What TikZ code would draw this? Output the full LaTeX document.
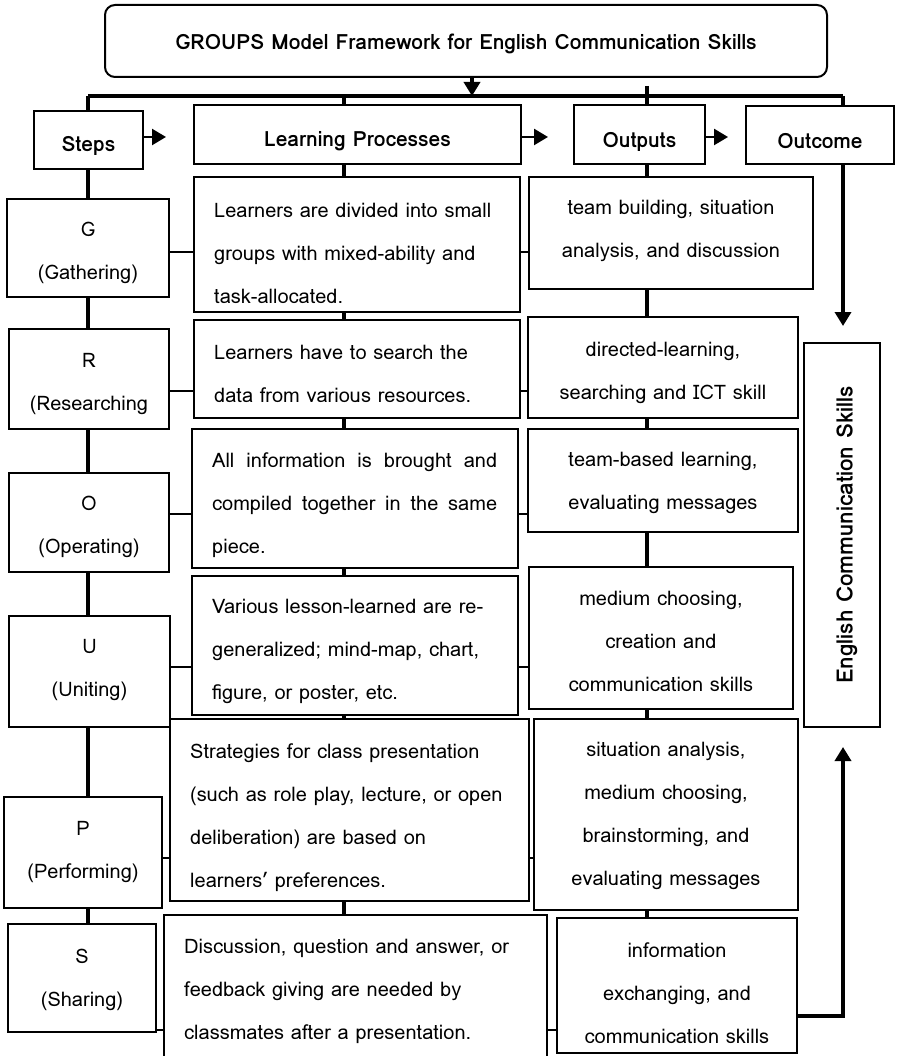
\documentclass[tikz,border=0pt]{standalone}
\usepackage{fontspec}
\setmainfont{Loma}
\usetikzlibrary{arrows.meta}
\tikzset{
  bx/.style={draw, line width=2pt, inner sep=0pt},
  ctxt/.style={align=center, inner sep=0pt, font=\fontsize{20}{43}\selectfont},
  ltxt/.style={align=left, anchor=west, inner sep=0pt, font=\fontsize{20}{43}\selectfont},
  htxt/.style={inner sep=0pt, font=\fontsize{21}{25}\selectfont\bfseries},
  col/.style={line width=3.5pt},
  rowc/.style={line width=2.5pt},
  tip/.style={-{Triangle[length=14pt,width=16pt]}},
}
\begin{document}
\begin{tikzpicture}[x=1pt,y=-1pt]
\useasboundingbox (0,0) rectangle (896,1056);
% title and headers
\node[bx, rounded corners=10pt, minimum width=722pt, minimum height=72pt] (title) at (466,41) {};
\node[htxt] (titlet) at ([yshift=-2.5pt]title.center) {GROUPS Model Framework for English Communication Skills};
\node[bx, minimum width=109pt, minimum height=58pt] (Steps) at (88.5,140) {};
\node[htxt] (Stepst) at ([yshift=-6pt]Steps.center) {Steps};
\node[bx, minimum width=327pt, minimum height=59pt] (LPh) at (357.5,134.5) {};
\node[htxt] (LPht) at ([yshift=-7pt]LPh.center) {Learning Processes};
\node[bx, minimum width=131pt, minimum height=59pt] (Outh) at (639.5,134.5) {};
\node[htxt] (Outht) at ([yshift=-7pt]Outh.center) {Outputs};
\node[bx, minimum width=148pt, minimum height=58pt] (Outc) at (820,135) {};
\node[htxt] (Outct) at ([yshift=-6pt]Outc.center) {Outcome};
% steps
\node[bx, minimum width=162pt, minimum height=98pt] (G) at (88,248) {};
\node[ctxt] (Gt) at ([yshift=-5pt]G.center) {G\\(Gathering)};
\node[bx, minimum width=160pt, minimum height=100pt] (R) at (89,379) {};
\node[ctxt] (Rt) at ([yshift=-5pt]R.center) {R\\(Researching};
\node[bx, minimum width=160pt, minimum height=99pt] (O) at (89,522.5) {};
\node[ctxt] (Ot) at ([yshift=-4pt]O.center) {O\\(Operating)};
\node[bx, minimum width=161pt, minimum height=111pt] (U) at (89.5,671.5) {};
\node[ctxt] (Ut) at ([yshift=1pt]U.center) {U\\(Uniting)};
\node[bx, minimum width=158pt, minimum height=111pt] (P) at (83,852.5) {};
\node[ctxt] (Pt) at ([yshift=0.5pt]P.center) {P\\(Performing)};
\node[bx, minimum width=148pt, minimum height=108pt] (S) at (82,978) {};
\node[ctxt] (St) at ([yshift=-1.5pt]S.center) {S\\(Sharing)};
% learning processes
\node[bx, minimum width=326pt, minimum height=135pt] (LP1) at (357,244.5) {};
\node[ltxt] (LP1t) at ([xshift=21pt,yshift=-8.5pt]LP1.west) {Learners are divided into small\\groups with mixed-ability and\\task-allocated.};
\node[bx, minimum width=326pt, minimum height=98pt] (LP2) at (357,369) {};
\node[ltxt] (LP2t) at ([xshift=21pt,yshift=-5pt]LP2.west) {Learners have to search the\\data from various resources.};
\node[bx, minimum width=326pt, minimum height=139pt] (LP3) at (355,498.5) {};
\node[ltxt] (LP3t) at ([xshift=21pt,yshift=-6.5pt]LP3.west) {\makebox[285pt][s]{All information is brought and}\\\makebox[285pt][s]{compiled together in the same}\\piece.};
\node[bx, minimum width=326pt, minimum height=139pt] (LP4) at (355,645.5) {};
\node[ltxt] (LP4t) at ([xshift=21pt,yshift=-6pt]LP4.west) {Various lesson-learned are re-\\generalized; mind-map, chart,\\figure, or poster, etc.};
\node[bx, minimum width=359pt, minimum height=182pt] (LP5) at (349.5,810) {};
\node[ltxt] (LP5t) at ([xshift=21pt,yshift=-7.5pt]LP5.west) {Strategies for class presentation\\(such as role play, lecture, or open\\deliberation) are based on\\learners' preferences.};
\node[bx, minimum width=383pt, minimum height=147pt] (LP6) at (355.5,988.5) {};
\node[ltxt] (LP6t) at ([xshift=21pt,yshift=-3pt]LP6.west) {Discussion, question and answer, or\\feedback giving are needed by\\classmates after a presentation.};
% outputs
\node[bx, minimum width=284pt, minimum height=112pt] (Out1) at (671,233) {};
\node[ctxt] (Out1t) at ([yshift=2pt]Out1.center) {team building, situation\\analysis, and discussion};
\node[bx, minimum width=270pt, minimum height=101pt] (Out2) at (663,367.5) {};
\node[ctxt] (Out2t) at ([yshift=-5.5pt]Out2.center) {directed-learning,\\searching and ICT skill};
\node[bx, minimum width=270pt, minimum height=103pt] (Out3) at (663,480.5) {};
\node[ctxt] (Out3t) at ([yshift=-2.5pt]Out3.center) {team-based learning,\\evaluating messages};
\node[bx, minimum width=264pt, minimum height=142pt] (Out4) at (661,638) {};
\node[ctxt] (Out4t) at ([yshift=-3.5pt]Out4.center) {medium choosing,\\creation and\\communication skills};
\node[bx, minimum width=264pt, minimum height=191pt] (Out5) at (666,814.5) {};
\node[ctxt] (Out5t) at ([yshift=-1.5pt]Out5.center) {situation analysis,\\medium choosing,\\brainstorming, and\\evaluating messages};
\node[bx, minimum width=240pt, minimum height=135pt] (Out6) at (677,985.5) {};
\node[ctxt] (Out6t) at ([yshift=-7.5pt]Out6.center) {information\\exchanging, and\\communication skills};
% outcome
\node[bx, minimum width=76pt, minimum height=384pt] (Eng) at (842,535) {};
\node[htxt, rotate=90, font=\fontsize{22.5}{26}\selectfont\bfseries] (Engt) at ([xshift=5pt]Eng.center) {English Communication Skills};
% coordinates
\coordinate (cS) at (88,96);
\coordinate (cL) at (344,96);
\coordinate (cO) at (647,96);
\coordinate (cC) at (843,96);
\coordinate (tA) at (472,96);
\coordinate (stub) at (647,86);
\coordinate (a1) at (166,137);
\coordinate (a2) at (548,137);
\coordinate (a3) at (728,137);
\coordinate (tipE) at (843,326);
\coordinate (bend) at (843,1016);
\coordinate (tipE2) at (843,747);
\coordinate (hG) at (0,252);
\coordinate (hR) at (0,391);
\coordinate (hO) at (0,514);
\coordinate (hU) at (0,667);
\coordinate (hP) at (0,858);
\coordinate (hS) at (0,1030);
% bar
\draw[col] (cS) -- (cC);
\draw[col, tip] (title.south -| tA) -- (tA);
\draw[col] (cS) -- (Steps.north -| cS);
\draw[col] (cL) -- (LPh.north -| cL);
\draw[col] (stub) -- (Outh.north -| cO);
\draw[col] (cC) -- (Outc.north -| cC);
% header arrows
\draw[rowc, tip] (a1 -| Steps.east) -- (a1);
\draw[rowc, tip] (a2 -| LPh.east) -- (a2);
\draw[rowc, tip] (a3 -| Outh.east) -- (a3);
% steps column
\draw[col] (Steps.south -| cS) -- (G.north -| cS);
\draw[col] (G.south -| cS) -- (R.north -| cS);
\draw[col] (R.south -| cS) -- (O.north -| cS);
\draw[col] (O.south -| cS) -- (U.north -| cS);
\draw[col] (U.south -| cS) -- (P.north -| cS);
\draw[col] (P.south -| cS) -- (S.north -| cS);
% LP column
\draw[col] (LPh.south -| cL) -- (LP1.north -| cL);
\draw[col] (LP1.south -| cL) -- (LP2.north -| cL);
\draw[col] (LP2.south -| cL) -- (LP3.north -| cL);
\draw[col] (LP3.south -| cL) -- (LP4.north -| cL);
\draw[col] (LP4.south -| cL) -- (LP5.north -| cL);
\draw[col] (LP5.south -| cL) -- (LP6.north -| cL);
% outputs column
\draw[col] (Outh.south -| cO) -- (Out1.north -| cO);
\draw[col] (Out1.south -| cO) -- (Out2.north -| cO);
\draw[col] (Out2.south -| cO) -- (Out3.north -| cO);
\draw[col] (Out3.south -| cO) -- (Out4.north -| cO);
\draw[col] (Out4.south -| cO) -- (Out5.north -| cO);
\draw[col] (Out5.south -| cO) -- (Out6.north -| cO);
% outcome arrows
\draw[col, tip] (Outc.south -| cC) -- (tipE);
\draw[col, tip] (bend -| Out6.east) -- (bend) -- (tipE2);
% row connectors
\draw[rowc] (G.east |- hG) -- (LP1.west |- hG) (LP1.east |- hG) -- (Out1.west |- hG);
\draw[rowc] (R.east |- hR) -- (LP2.west |- hR) (LP2.east |- hR) -- (Out2.west |- hR);
\draw[rowc] (O.east |- hO) -- (LP3.west |- hO) (LP3.east |- hO) -- (Out3.west |- hO);
\draw[rowc] (U.east |- hU) -- (LP4.west |- hU) (LP4.east |- hU) -- (Out4.west |- hU);
\draw[rowc] (P.east |- hP) -- (LP5.west |- hP) (LP5.east |- hP) -- (Out5.west |- hP);
\draw[rowc] (S.east |- hS) -- (LP6.west |- hS) (LP6.east |- hS) -- (Out6.west |- hS);
\end{tikzpicture}
\end{document}
